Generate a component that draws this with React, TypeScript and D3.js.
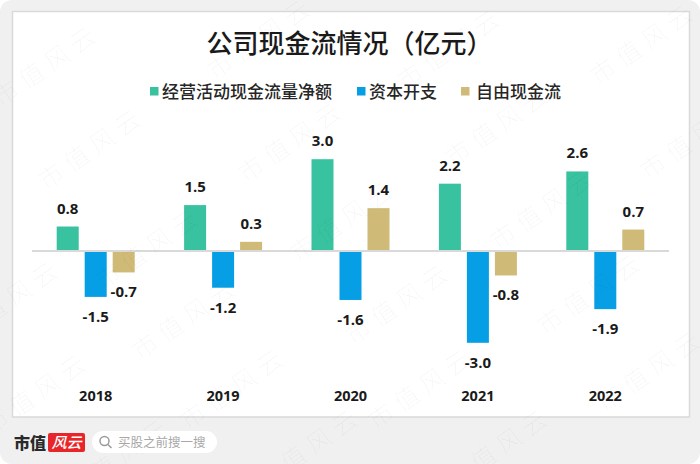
import React from "react";
import * as d3 from "d3";

const years = ["2018", "2019", "2020", "2021", "2022"];
const seriesNames = ["经营活动现金流量净额", "资本开支", "自由现金流"];
const operating = [0.8, 1.5, 3.0, 2.2, 2.6];
const capex = [-1.5, -1.2, -1.6, -3.0, -1.9];
const freeCash = [-0.7, 0.3, 1.4, -0.8, 0.7];
const seriesValues = [operating, capex, freeCash];
const colors = ["#38c29f", "#069fe6", "#cfba78"];
const legendSquares = [150, 357, 461];
const legendTexts = [162, 369, 476];
const watermarks: [number, number][] = [
  [48, 67], [262, 40], [452, 50], [645, 45],
  [93, 150], [293, 143], [500, 127], [695, 140],
  [150, 250], [345, 222], [545, 210],
  [10, 302], [187, 320], [400, 305], [592, 295],
  [38, 395], [235, 390], [423, 390], [652, 372],
  [120, 460], [310, 450], [500, 450],
];

const FONT = '"Noto Sans CJK SC", "Noto Sans", sans-serif';
const NUM = '"Open Sans", "Noto Sans", sans-serif';

export default function App() {
  const x = d3.scaleBand<string>().domain(years).range([32, 669]);
  const inner = d3.scaleBand<string>().domain(seriesNames).range([-39, 39]).paddingInner(0.214);
  const y = d3.scaleLinear().domain([-3.5, 3.5]).range([358.1, 143.9]);
  const zero = y(0);
  return (
    <svg width={700} height={464} viewBox="0 0 700 464" style={{ position: "absolute", left: 0, top: 0, display: "block" }}>
      <rect width={700} height={464} fill="#ffffff" />
      <rect width={700} height={464} rx={12} fill="#f0f0f0" />
      <rect x={12.5} y={11.5} width={677} height={405.5} fill="#ffffff" stroke="#d9d9d9" strokeWidth={1.5} />

      <text x={206.5} y={53} fontFamily={FONT} fontSize={26} fontWeight={500} fill="#1a1a1a">公司现金流情况（亿元）</text>

      {seriesNames.map((s, i) => (
        <g key={s}>
          <rect x={legendSquares[i]} y={87} width={8.5} height={8.5} fill={colors[i]} />
          <text x={legendTexts[i]} y={97.5} fontFamily={FONT} fontSize={17} fontWeight={500} fill="#262626">{s}</text>
        </g>
      ))}

      {seriesNames.map((s, si) =>
        years.map((yr, yi) => {
          const v = seriesValues[si][yi];
          const c = (x(yr) as number) + x.bandwidth() / 2;
          const bx = c + (inner(s) as number);
          const top = y(Math.max(v, 0));
          const bottom = y(Math.min(v, 0));
          return (
            <g key={s + yr}>
              <rect x={bx} y={top} width={inner.bandwidth()} height={bottom - top} fill={colors[si]} />
              <text
                x={bx + inner.bandwidth() / 2}
                y={v >= 0 ? top - 13 : bottom + 25}
                textAnchor="middle"
                fontFamily={NUM}
                fontSize={15}
                fontWeight={700}
                fill="#1a1a1a"
              >
                {v.toFixed(1)}
              </text>
            </g>
          );
        })
      )}

      <line x1={32} x2={669} y1={zero} y2={zero} stroke="#d9d9d9" strokeWidth={1.8} />

      {years.map((yr) => (
        <text key={yr} x={(x(yr) as number) + x.bandwidth() / 2} y={401} textAnchor="middle" fontFamily={NUM} fontSize={14.5} fontWeight={700} fill="#1a1a1a">{yr}</text>
      ))}

      {watermarks.map(([wx, wy], i) => (
        <text key={i} transform={`translate(${wx},${wy}) rotate(-35)`} textAnchor="middle" dominantBaseline="middle" fontFamily={FONT} fontSize={25} fontWeight={300} letterSpacing={6} fill="#000000" fillOpacity={0.04}>市值风云</text>
      ))}

      <text x={14} y={449} fontFamily='"Noto Sans CJK SC", serif' fontSize={16} fontWeight={900} fill="#2a2a2a">市值</text>
      <rect x={48} y={433} width={37} height={19} rx={2} fill="#e8262a" />
      <text x={66.5} y={448} textAnchor="middle" fontFamily={FONT} fontSize={15} fontStyle="italic" fontWeight={500} fill="#ffffff">风云</text>
      <rect x={92} y={431} width={125} height={22} rx={11} fill="#ffffff" />
      <circle cx={104.5} cy={441} r={4.5} fill="none" stroke="#9a9a9a" strokeWidth={1.5} />
      <line x1={108} y1={444.5} x2={111.5} y2={448} stroke="#9a9a9a" strokeWidth={1.5} />
      <text x={118} y={446.5} fontFamily={FONT} fontSize={12.5} fill="#a8a8a8">买股之前搜一搜</text>
    </svg>
  );
}
